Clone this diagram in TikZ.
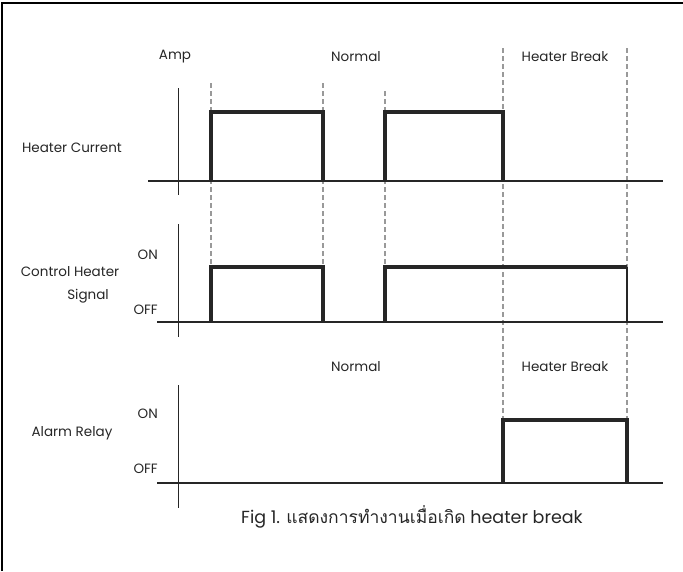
\documentclass[tikz,border=0pt]{standalone}
\usepackage{fontspec}
\setmainfont{Poppins}
\newfontfamily\thaifont[Script=Thai]{Loma}
\usepackage{tikz}
\usetikzlibrary{calc}
\tikzstyle{lbl}     = [font=\fontsize{13.5}{15}\selectfont, text=black!85, inner sep=0pt]
\tikzstyle{caption} = [font=\fontsize{17.5}{20}\selectfont, text=black!85, inner sep=0pt]
\tikzstyle{axis}    = [line width=1.8pt, black!85]
\tikzstyle{pulse}   = [line width=3.8pt, black!85]
\tikzstyle{guide}   = [line width=1.5pt, black!40, dash pattern=on 5pt off 3pt]

\begin{document}
\begin{tikzpicture}[x=1pt, y=-1pt]
      \useasboundingbox (0,0) rectangle (683,571);
      \draw [line width=2.5pt] (2,571) -- (2,3) -- (683,3);

      % labels
      \node (amp)    [lbl] at (175,57)  {Amp};
      \node (norm1)  [lbl] at (356,57)  {Normal};
      \node (brk1)   [lbl] at (565,57)  {Heater Break};
      \node (heater) [lbl] at (72,148)  {Heater Current};

      \node (ctrl)   [lbl] at (70,272)  {Control Heater};
      \node (sig)    [lbl] at (88,296)  {Signal};
      \node (on1)    [lbl, anchor=east] at (158,255) {ON};
      \node (off1)   [lbl, anchor=east] at (158,310) {OFF};

      \node (norm2)  [lbl] at (356,367) {Normal};
      \node (brk2)   [lbl] at (565,367) {Heater Break};
      \node (alarm)  [lbl] at (72,433)  {Alarm Relay};
      \node (on2)    [lbl, anchor=east] at (158,414) {ON};
      \node (off2)   [lbl, anchor=east] at (158,469) {OFF};

      \node (fig)    [caption] at (412,517) {Fig 1. {\thaifont แสดงการทำงานเมื่อเกิด} heater break};

      % dashed guides
      \draw [guide] (211,83) -- (211,267);
      \draw [guide] (323,83) -- (323,267);
      \draw [guide] (385,91) -- (385,267);
      \draw [guide] (503,48) -- (503,420);
      \draw [guide] (627,48) -- (627,420);

      % axes
      \draw [axis] (178.5,88)  -- (178.5,195);
      \draw [axis] (148,181)   -- (663,181);
      \draw [axis] (178.5,224) -- (178.5,337);
      \draw [axis] (157,321.7) -- (663,321.7);
      \draw [axis] (178.5,385) -- (178.5,508);
      \draw [axis] (157,482.7) -- (663,482.7);

      % heater current
      \draw [pulse] (211,181) -- (211,111.7) -- (323,111.7) -- (323,181);
      \draw [pulse] (385,181) -- (385,111.7) -- (503,111.7) -- (503,181);

      % control heater signal
      \draw [pulse] (211,321.7) -- (211,266.7) -- (323,266.7) -- (323,321.7);
      \draw [pulse] (385,321.7) -- (385,266.7) -- (627,266.7);
      \draw [axis, line width=2.5pt] (627,266.7) -- (627,321.7);

      % alarm relay
      \draw [pulse] (503,482.7) -- (503,420) -- (627,420) -- (627,482.7);
    \end{tikzpicture}
\end{document}
